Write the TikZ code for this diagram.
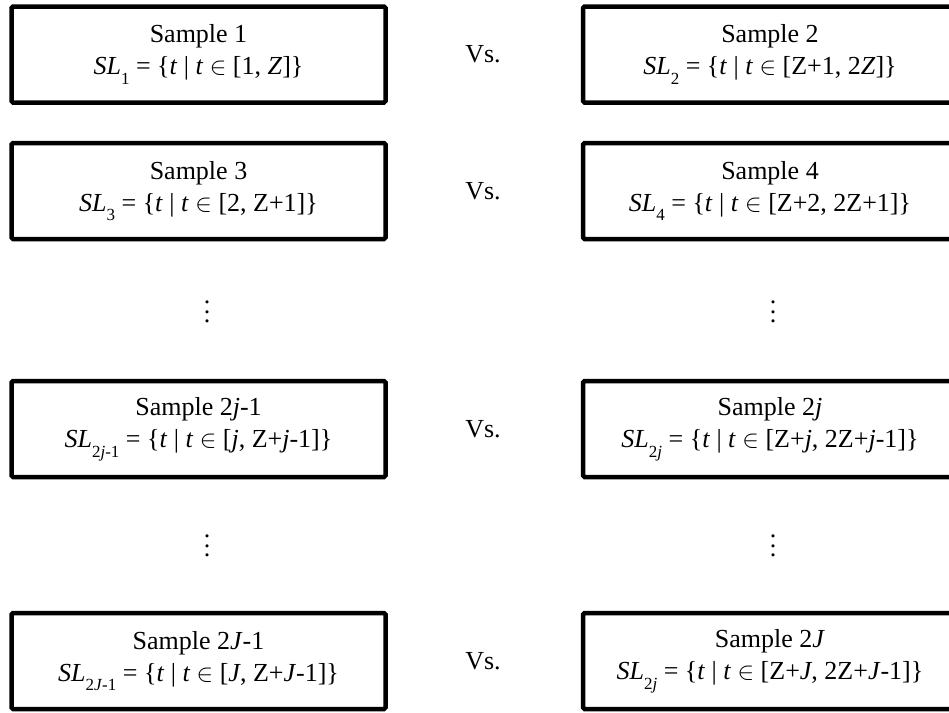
\documentclass[tikz,border=0pt]{standalone}
\usepackage{fontspec}
\setmainfont{Liberation Serif}
\newcommand{\sbs}[1]{\raisebox{-0.38em}{\fontsize{17}{17}\selectfont #1}}
\newcommand{\dotstack}{\vbox{\baselineskip=9.5pt\lineskiplimit=-100pt\lineskip=0pt\hbox{.}\hbox{.}\hbox{.}}}
\newcommand{\setrel}{\{\textit{t} | \textit{t} $\in$ }
\begin{document}
\begin{tikzpicture}[x=1pt,y=-1pt,
  samplebox/.style={draw, line width=4.5pt, rounded corners=1.5pt,
    minimum width=374pt, minimum height=96pt, inner sep=0pt, align=center,
    font=\fontsize{26}{32}\selectfont},
  vslabel/.style={inner sep=0pt, font=\fontsize{26}{32}\selectfont},
  dotlabel/.style={inner sep=0pt, font=\fontsize{26}{32}\selectfont}]
\useasboundingbox (0,0) rectangle (949,712);
\clip (0,0) rectangle (949,712);
\fill[white] (0,0) rectangle (949,712);
% row 1
\node[samplebox] (s1) at (198.5,54.5) {Sample 1\\ \textit{SL}\sbs{1} = \setrel [1, \textit{Z}]\}};
\node[samplebox] (s2) at (770,54.5) {Sample 2\\ \textit{SL}\sbs{2} = \setrel [Z+1, 2\textit{Z}]\}};
\node[vslabel] (v1) at (483,54.5) {Vs.};
% row 2
\node[samplebox] (s3) at (198.5,191) {Sample 3\\ \textit{SL}\sbs{3} = \setrel [2, Z+1]\}};
\node[samplebox] (s4) at (770,191) {Sample 4\\ \textit{SL}\sbs{4} = \setrel [Z+2, 2Z+1]\}};
\node[vslabel] (v2) at (483,191) {Vs.};
% dots
\node[dotlabel] (d1) at (207,312) {\dotstack};
\node[dotlabel] (d2) at (773,312) {\dotstack};
% row 3
\node[samplebox] (s5) at (198.5,429) {Sample 2\textit{j}-1\\ \textit{SL}\sbs{2\textit{j}-1} = \setrel [\textit{j}, Z+\textit{j}-1]\}};
\node[samplebox] (s6) at (770,429) {Sample 2\textit{j}\\ \textit{SL}\sbs{2\textit{j}} = \setrel [Z+\textit{j}, 2Z+\textit{j}-1]\}};
\node[vslabel] (v3) at (483,429) {Vs.};
% dots
\node[dotlabel] (d3) at (207,546) {\dotstack};
\node[dotlabel] (d4) at (773,546) {\dotstack};
% row 4
\node[samplebox] (s7) at (198.5,661) {Sample 2\textit{J}-1\\ \textit{SL}\sbs{2\textit{J}-1} = \setrel [\textit{J}, Z+\textit{J}-1]\}};
\node[samplebox] (s8) at (770,661) {Sample 2\textit{J}\\ \textit{SL}\sbs{2\textit{j}} = \setrel [Z+\textit{J}, 2Z+\textit{J}-1]\}};
\node[vslabel] (v4) at (483,661) {Vs.};
\end{tikzpicture}
\end{document}
